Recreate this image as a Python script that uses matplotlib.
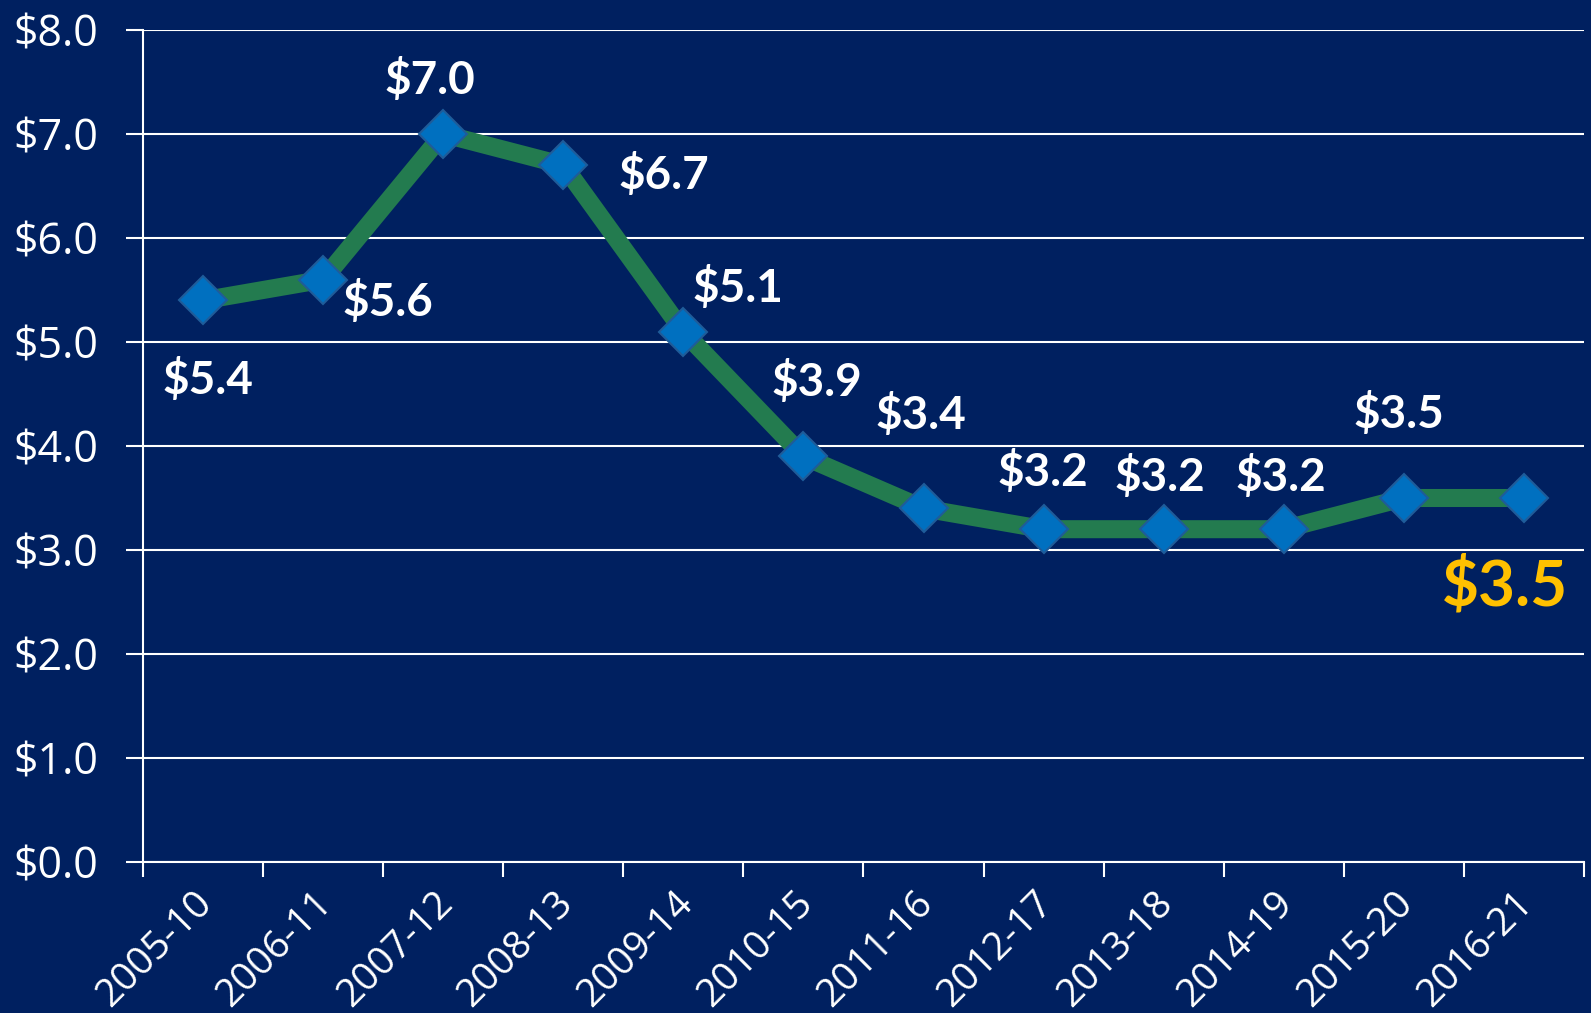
import matplotlib
matplotlib.use("Agg")
import matplotlib.pyplot as plt
from matplotlib.ticker import FixedLocator, NullFormatter
from matplotlib.transforms import ScaledTranslation

# data
years = ["2005-10", "2006-11", "2007-12", "2008-13", "2009-14", "2010-15",
         "2011-16", "2012-17", "2013-18", "2014-19", "2015-20", "2016-21"]
values = [5.4, 5.6, 7.0, 6.7, 5.1, 3.9, 3.4, 3.2, 3.2, 3.2, 3.5, 3.5]
y_ticks = [0, 1, 2, 3, 4, 5, 6, 7, 8]

# label offsets in pixels (dx, dy), tuned by eye
label_offsets = [(5, -80), (65, -22), (-13, 54), (101, -10), (55, 44), (13, 74),
                 (-3, 93), (-1, 57), (-4, 52), (-3, 52), (-5, 84), (-19, -88)]

BG = "#002060"
LINE = "#237B4F"
MARK = "#0070C0"

fig = plt.figure(figsize=(15.91, 10.13), dpi=100, facecolor=BG)
ax = fig.add_axes([143 / 1591, 151 / 1013, 1441 / 1591, 832 / 1013])
ax.set_facecolor(BG)

x = list(range(len(years)))
ax.plot(x, values, color=LINE, lw=13, solid_joinstyle="round", zorder=3)
ax.plot(x, values, ls="none", marker="D", ms=24, mfc=MARK, mec="#1F5C99",
        mew=1.5, zorder=4)

for i, (v, (dx, dy)) in enumerate(zip(values, label_offsets)):
    last = i == len(values) - 1
    ax.annotate(f"${v:.1f}", (i, v), xytext=(dx, dy), textcoords="offset pixels",
                ha="center", va="center", fontfamily="Lato", fontweight="bold",
                fontsize=46 if last else 33,
                color="#FFC000" if last else "white", zorder=5)

ax.set_xlim(-0.5, len(years) - 0.5)
ax.set_ylim(0, 8)

ax.set_yticks(y_ticks)
ax.set_yticklabels([f"${t:.1f}" for t in y_ticks], fontfamily="Open Sans",
                   fontsize=31, color="white")
ax.tick_params(axis="y", length=12, width=1.5, color="white", pad=20)
ax.yaxis.grid(True, color="white", lw=1.5)

# boundary ticks without labels, labels at category centres
ax.xaxis.set_major_locator(FixedLocator([i - 0.5 for i in range(len(years) + 1)]))
ax.xaxis.set_major_formatter(NullFormatter())
ax.xaxis.set_minor_locator(FixedLocator(x))
ax.set_xticklabels(years, minor=True, rotation=45, ha="right", va="top",
                   fontfamily="Open Sans", fontsize=28, color="white")
ax.tick_params(axis="x", which="major", length=11, width=1.5, color="white")
ax.tick_params(axis="x", which="minor", length=0, pad=16)
shift = ScaledTranslation(0.17, 0, fig.dpi_scale_trans)
for lbl in ax.get_xticklabels(minor=True):
    lbl.set_transform(lbl.get_transform() + shift)

for side in ["top", "right"]:
    ax.spines[side].set_visible(False)
for side in ["left", "bottom"]:
    ax.spines[side].set_color("white")
    ax.spines[side].set_linewidth(1.5)
ax.set_axisbelow(True)

fig.savefig("out.png", dpi=100, facecolor=BG)
